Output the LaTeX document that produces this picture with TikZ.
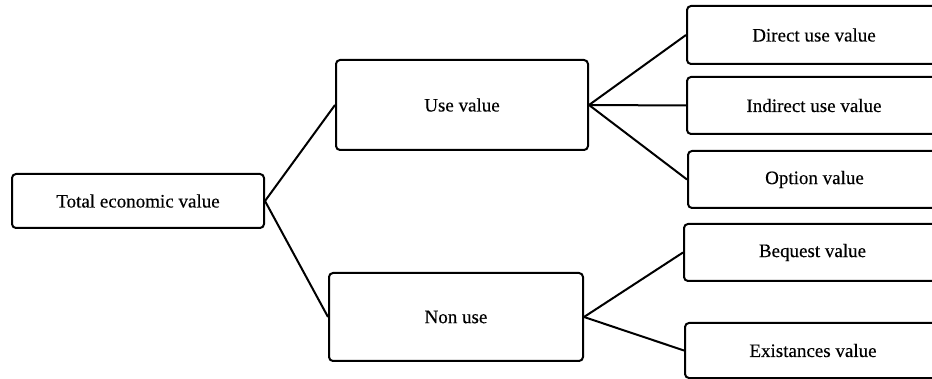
\documentclass[tikz,border=0pt]{standalone}
\usepackage{fontspec}
\setmainfont{Liberation Serif}[UprightFeatures={FakeBold=0.3}]
\begin{document}
\begin{tikzpicture}[x=1pt,y=-1pt,
  valbox/.style={draw=black, line width=2pt, rounded corners=4pt, fill=white,
    font=\fontsize{19}{22}\selectfont, inner sep=0pt, anchor=north west},
  link/.style={draw=black, line width=2pt}]
\useasboundingbox (0,0) rectangle (932,379);
\clip (0,0) rectangle (932,379);
% left and middle boxes
\node[valbox, minimum width=252pt, minimum height=54pt] (tev) at (11,173) {Total economic value};
\node[valbox, minimum width=252pt, minimum height=90pt] (use) at (335,59) {Use value};
\node[valbox, minimum width=254pt, minimum height=88pt] (non) at (328,272) {Non use};
% right-hand boxes run past the right edge
\node[valbox, minimum width=254pt, minimum height=58pt] (dir) at (686,5) {Direct use value};
\node[valbox, minimum width=254pt, minimum height=57pt] (ind) at (686,76) {Indirect use value};
\node[valbox, minimum width=253pt, minimum height=57pt] (opt) at (687,150) {Option value};
\node[valbox, minimum width=257pt, minimum height=57pt] (beq) at (683,223) {Bequest value};
\node[valbox, minimum width=256pt, minimum height=55pt] (exi) at (684,322) {Existances value};
% connectors
\draw[link] (tev.east) -- (use.west);
\draw[link] (tev.east) -- (non.west);
\draw[link] (use.east) -- (dir.west);
\draw[link] (use.east) -- (ind.west);
\draw[link] (use.east) -- (opt.west);
\draw[link] (non.east) -- (beq.west);
\draw[link] (non.east) -- (exi.west);
\end{tikzpicture}
\end{document}
